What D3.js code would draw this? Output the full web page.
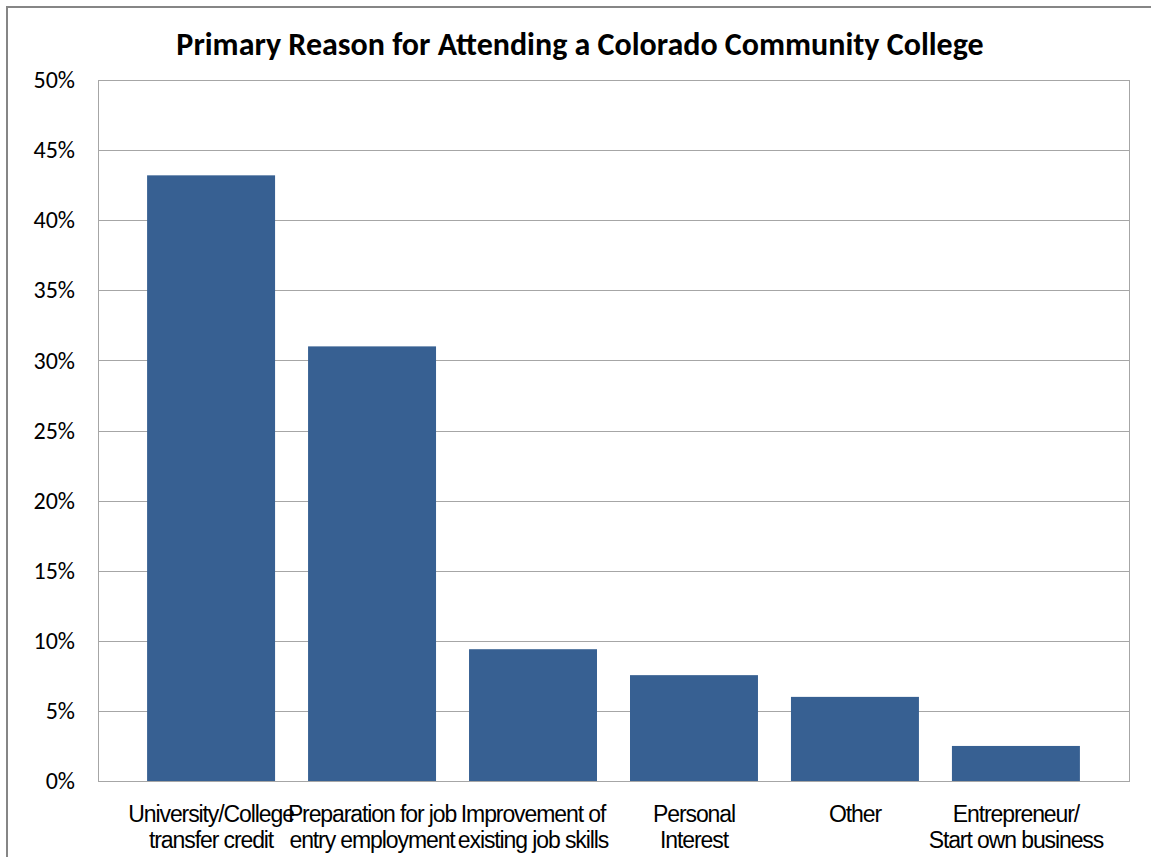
<!DOCTYPE html>
<html>
<head>
<meta charset="utf-8">
<script src="https://cdn.jsdelivr.net/npm/d3@7"></script>
<style>
  html, body { margin: 0; padding: 0; background: #fff; }
  svg { display: block; }
</style>
</head>
<body>
<svg id="chart" width="1151" height="857"></svg>
<script>
// Survey: primary reason for attending a Colorado community college
const categories = [
  ["University/College", "transfer credit"],
  ["Preparation for job", "entry employment"],
  ["Improvement of", "existing job skills"],
  ["Personal", "Interest"],
  ["Other"],
  ["Entrepreneur/", "Start own business"]
];
const shares = [43.2, 31.0, 9.4, 7.55, 6.0, 2.5];
const yTicks = [0, 5, 10, 15, 20, 25, 30, 35, 40, 45, 50];

const svg = d3.select("#chart");
const W = 1151, H = 857;
const plot = { left: 98, top: 80, right: 1129, bottom: 781 };

// Outer chart frame
svg.append("rect")
  .attr("x", 7).attr("y", 7)
  .attr("width", W + 20).attr("height", H + 20)
  .attr("fill", "#fff")
  .attr("stroke", "#868686").attr("stroke-width", 2);

svg.append("text")
  .attr("x", 580).attr("y", 55)
  .attr("text-anchor", "middle")
  .attr("font-family", "Carlito, Lato, 'Open Sans', sans-serif")
  .attr("font-weight", "bold")
  .attr("font-size", 32)
  .attr("fill", "#000")
  .text("Primary Reason for Attending a Colorado Community College");

const x = d3.scaleBand()
  .domain(d3.range(categories.length))
  .range([plot.left, plot.right])
  .paddingInner(0.205)
  .paddingOuter(0.305);

const y = d3.scaleLinear()
  .domain([0, 50])
  .range([plot.bottom, plot.top]);

// Horizontal gridlines
svg.append("g")
  .selectAll("line")
  .data(yTicks)
  .join("line")
  .attr("x1", plot.left).attr("x2", plot.right)
  .attr("y1", d => Math.round(y(d)) + 0.5)
  .attr("y2", d => Math.round(y(d)) + 0.5)
  .attr("stroke", "#a6a6a6").attr("stroke-width", 1);

// Plot area border
svg.append("rect")
  .attr("x", plot.left + 0.5).attr("y", Math.round(y(50)) + 0.5)
  .attr("width", plot.right - plot.left)
  .attr("height", Math.round(y(0)) - Math.round(y(50)))
  .attr("fill", "none")
  .attr("stroke", "#a6a6a6").attr("stroke-width", 1);

// Y axis labels
const yAxis = d3.axisLeft(y)
  .tickValues(yTicks)
  .tickFormat(d => d + "%")
  .tickSize(0)
  .tickPadding(0);
const yg = svg.append("g")
  .attr("transform", `translate(75,0)`)
  .call(yAxis);
yg.select(".domain").remove();
yg.selectAll("text")
  .attr("font-family", "Carlito, Lato, 'Open Sans', sans-serif")
  .attr("font-size", 24)
  .attr("fill", "#000");

// Bars
svg.append("g")
  .selectAll("rect")
  .data(shares)
  .join("rect")
  .attr("x", (d, i) => x(i))
  .attr("width", x.bandwidth())
  .attr("y", d => y(d))
  .attr("height", d => y(0) - y(d))
  .attr("fill", "#376092");

// Category labels (two lines each)
const xg = svg.append("g");
categories.forEach((lines, i) => {
  const cx = x(i) + x.bandwidth() / 2;
  const t = xg.append("text")
    .attr("text-anchor", "middle")
    .attr("font-family", "'Liberation Sans', Arial, sans-serif")
    .attr("font-size", 23)
    .attr("letter-spacing", -1.1)
    .attr("fill", "#000");
  lines.forEach((s, j) => {
    t.append("tspan")
      .attr("x", cx)
      .attr("y", 822 + j * 26)
      .text(s);
  });
});
</script>
</body>
</html>
